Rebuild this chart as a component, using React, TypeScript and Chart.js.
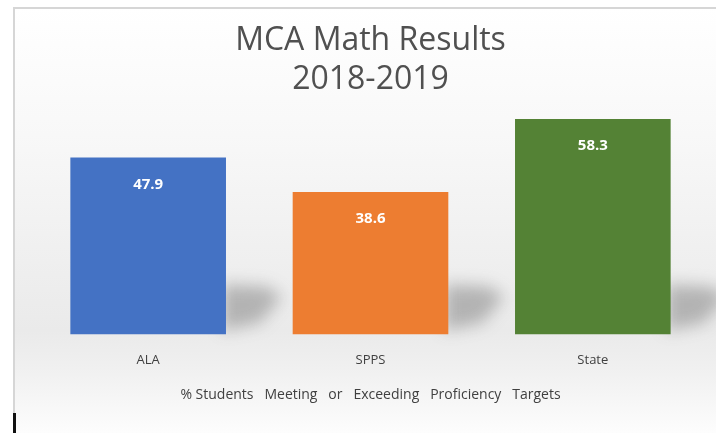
import React, { useEffect, useRef } from "react";
import { Chart, registerables } from "chart.js";
Chart.register(...registerables);

const categories = ["ALA", "SPPS", "State"];
const values = [47.9, 38.6, 58.3];
const barColors = ["#4472c4", "#ed7d31", "#548235"];
const titleLines = ["MCA Math Results", "2018-2019"];
const axisTitle = "% Students   Meeting   or   Exceeding   Proficiency   Targets";
const yMax = 60;

const FONT = "'Open Sans', 'Noto Sans', sans-serif";

const backgroundPlugin = {
  id: "bgFrame",
  beforeDraw(chart: any) {
    const ctx = chart.ctx;
    const w = chart.width;
    const h = chart.height;
    ctx.save();
    ctx.fillStyle = "#ffffff";
    ctx.fillRect(0, 0, w, h);
    const g = ctx.createLinearGradient(0, 8, 0, h);
    g.addColorStop(0, "#ffffff");
    g.addColorStop(0.3, "#f8f8f8");
    g.addColorStop(0.76, "#eaeaea");
    g.addColorStop(0.85, "#f0f0f0");
    g.addColorStop(1, "#fdfdfd");
    ctx.fillStyle = g;
    ctx.fillRect(14, 8, w + 10, h);
    ctx.strokeStyle = "#d6d6d6";
    ctx.lineWidth = 2;
    ctx.beginPath();
    ctx.moveTo(14, h);
    ctx.lineTo(14, 8);
    ctx.lineTo(w + 10, 8);
    ctx.stroke();
    ctx.fillStyle = "#111111";
    ctx.fillRect(13, 413, 3, h - 413);
    ctx.restore();
  },
};

const shadowPlugin = {
  id: "barShadows",
  beforeDatasetsDraw(chart: any) {
    const ctx = chart.ctx;
    const meta = chart.getDatasetMeta(0);
    ctx.save();
    ctx.filter = "blur(8px)";
    ctx.fillStyle = "rgba(70,70,70,0.34)";
    meta.data.forEach((bar: any) => {
      const R = bar.x + bar.width / 2;
      const B = bar.base;
      ctx.beginPath();
      ctx.moveTo(R - 4, B - 50);
      ctx.lineTo(R + 40, B - 48);
      ctx.lineTo(R + 56, B - 38);
      ctx.lineTo(R + 34, B - 12);
      ctx.lineTo(R - 4, B - 4);
      ctx.closePath();
      ctx.fill();
    });
    ctx.restore();
  },
};

const labelPlugin = {
  id: "barLabels",
  afterDatasetsDraw(chart: any) {
    const ctx = chart.ctx;
    const meta = chart.getDatasetMeta(0);
    ctx.save();
    ctx.fillStyle = "#ffffff";
    ctx.font = `bold 15px ${FONT}`;
    ctx.textAlign = "center";
    ctx.textBaseline = "middle";
    meta.data.forEach((bar: any, i: number) => {
      ctx.fillText(values[i].toFixed(1), bar.x, bar.y + 27);
    });
    ctx.restore();
  },
};

export default function App() {
  const ref = useRef<HTMLCanvasElement>(null);
  useEffect(() => {
    document.body.style.margin = "0";
    const chart = new Chart(ref.current!, {
      type: "bar",
      data: {
        labels: categories,
        datasets: [
          {
            data: values,
            backgroundColor: barColors,
            borderWidth: 0,
            barPercentage: 0.7,
            categoryPercentage: 1,
          },
        ],
      },
      options: {
        animation: false,
        responsive: false,
        layout: { padding: { left: 37, right: 12, top: 0, bottom: 0 } },
        plugins: {
          legend: { display: false },
          tooltip: { enabled: false },
          title: {
            display: true,
            text: titleLines,
            color: "#505050",
            font: { family: FONT, size: 32, weight: "normal", lineHeight: 1.2 },
            padding: { top: 22, bottom: 14 },
          },
        },
        scales: {
          x: {
            grid: { display: false, drawTicks: false },
            border: { display: false },
            ticks: { color: "#404040", font: { family: FONT, size: 13 }, padding: 18 },
            title: {
              display: true,
              text: axisTitle,
              color: "#404040",
              font: { family: FONT, size: 14, lineHeight: 1.2 },
              padding: { top: 0, bottom: 30 },
            },
          },
          y: { display: false, min: 0, max: yMax },
        },
      },
      plugins: [backgroundPlugin, shadowPlugin, labelPlugin],
    });
    return () => chart.destroy();
  }, []);
  return <canvas ref={ref} width={716} height={433} style={{ display: "block" }} />;
}
